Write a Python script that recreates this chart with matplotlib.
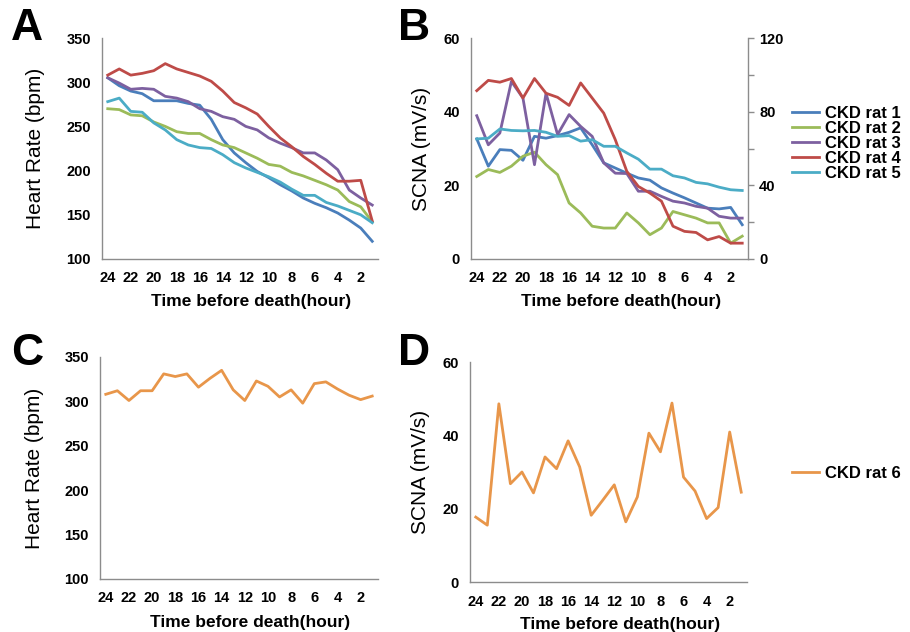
import matplotlib
matplotlib.use('Agg')
import matplotlib.pyplot as plt

plt.rcParams['font.family'] = ['Liberation Sans', 'DejaVu Sans']

# horas antes da morte (24 -> 1)
horas = list(range(24, 0, -1))
rotulos_x = list(range(24, 0, -2))

# A - frequencia cardiaca (bpm), ratos CKD 1-5
fc_rato1 = [305, 296, 290, 287, 279, 279, 279, 276, 274, 258, 235, 220, 209, 199, 192, 184, 177, 169, 163, 158, 152, 144, 135, 120]
fc_rato2 = [270, 269, 263, 262, 255, 250, 244, 242, 242, 235, 229, 226, 220, 214, 207, 205, 198, 194, 189, 184, 178, 165, 159, 142]
fc_rato3 = [305, 299, 292, 293, 292, 284, 282, 278, 270, 267, 261, 258, 250, 246, 237, 231, 226, 220, 220, 212, 201, 178, 169, 161]
fc_rato4 = [308, 315, 308, 310, 313, 321, 315, 311, 307, 301, 290, 277, 271, 264, 250, 237, 227, 216, 207, 197, 188, 188, 189, 143]
fc_rato5 = [278, 282, 267, 266, 254, 246, 235, 229, 226, 225, 218, 209, 203, 198, 193, 187, 179, 172, 172, 164, 160, 155, 150, 141]

# B - SCNA (mV/s), ratos CKD 1-5
scna_rato1 = [32.6, 25.2, 29.7, 29.5, 26.8, 33.3, 32.8, 33.5, 34.4, 35.6, 31.0, 26.1, 24.7, 23.3, 22.0, 21.4, 19.3, 17.9, 16.6, 15.2, 13.8, 13.6, 14.0, 9.3]
scna_rato2 = [22.4, 24.3, 23.5, 25.2, 27.9, 29.0, 25.6, 22.9, 15.2, 12.5, 8.9, 8.4, 8.4, 12.5, 9.8, 6.6, 8.4, 12.9, 12.0, 11.1, 9.8, 9.8, 4.3, 6.2]
scna_rato3 = [38.9, 31.0, 34.2, 48.2, 43.7, 25.6, 45.0, 33.8, 39.2, 36.0, 33.3, 26.1, 23.3, 23.2, 18.4, 18.4, 17.0, 15.7, 15.2, 14.3, 13.8, 11.6, 11.1, 11.1]
scna_rato4 = [45.7, 48.5, 48.0, 49.0, 43.7, 49.0, 45.0, 43.9, 41.7, 47.8, 43.7, 39.6, 32.4, 23.8, 19.7, 17.9, 15.7, 8.9, 7.5, 7.2, 5.2, 6.1, 4.3, 4.3]
scna_rato5 = [32.6, 32.8, 35.3, 34.9, 34.8, 34.9, 34.4, 33.3, 33.5, 32.0, 32.4, 30.6, 30.6, 28.8, 27.1, 24.4, 24.4, 22.6, 22.0, 20.8, 20.4, 19.5, 18.8, 18.6]

# C / D - rato CKD 6
fc_rato6 = [308, 312, 301, 312, 312, 331, 328, 331, 316, 326, 335, 313, 301, 323, 317, 305, 313, 298, 320, 322, 314, 307, 302, 306]
scna_rato6 = [17.7, 15.5, 48.6, 26.8, 30.0, 24.3, 34.1, 30.9, 38.5, 31.4, 18.2, 22.3, 26.5, 16.4, 23.2, 40.6, 35.5, 48.8, 28.6, 24.8, 17.3, 20.3, 40.9, 24.5]

nomes = ['CKD rat 1', 'CKD rat 2', 'CKD rat 3', 'CKD rat 4', 'CKD rat 5']
cores = ['#4A7EBB', '#9BBB59', '#7D60A0', '#BE4B48', '#4BACC6']
cor_rato6 = '#E8964A'
cor_eixo = '#8C8C8C'

W, H = 910, 632
fig = plt.figure(figsize=(W / 100, H / 100), dpi=100)


def caixa(x0, x1, ytop, ybot):
    return [x0 / W, 1 - ybot / H, (x1 - x0) / W, (ybot - ytop) / H]


def formata(ax, ylim, yticks, ylabel, ylab_x):
    ax.set_xlim(24.5, 0.5)
    ax.set_ylim(*ylim)
    ax.set_yticks(yticks)
    ax.set_xticks(rotulos_x)
    ax.set_xticklabels([str(v) for v in rotulos_x])
    for lado in ['top', 'right']:
        ax.spines[lado].set_visible(False)
    for lado in ['left', 'bottom']:
        ax.spines[lado].set_color(cor_eixo)
        ax.spines[lado].set_linewidth(1.0)
    ax.tick_params(axis='x', length=0, pad=9, labelsize=10.5)
    ax.tick_params(axis='y', length=0, pad=8, labelsize=10.5)
    for t in ax.get_xticklabels() + ax.get_yticklabels():
        t.set_fontweight('bold')
    ax.set_ylabel(ylabel, fontsize=15)
    ax.yaxis.set_label_coords(ylab_x, 0.5)
    ax.set_xlabel('Time before death(hour)', fontsize=12.5, fontweight='bold')
    ax.xaxis.set_label_coords(0.54, -0.16)


# ---------------- A ----------------
axA = fig.add_axes(caixa(102, 378, 38, 259))
for serie, cor in zip([fc_rato1, fc_rato2, fc_rato3, fc_rato4, fc_rato5], cores):
    axA.plot(horas, serie, color=cor, lw=2.0)
formata(axA, (100, 350), [100, 150, 200, 250, 300, 350], 'Heart Rate (bpm)', -0.205)

# ---------------- B ----------------
axB = fig.add_axes(caixa(471, 748, 38, 259))
linhas = []
for serie, cor, nome in zip([scna_rato1, scna_rato2, scna_rato3, scna_rato4, scna_rato5], cores, nomes):
    l, = axB.plot(horas, serie, color=cor, lw=2.0, label=nome)
    linhas.append(l)
formata(axB, (0, 60), [0, 20, 40, 60], 'SCNA (mV/s)', -0.145)

# eixo secundario (0-120)
axB2 = axB.twinx()
axB2.set_ylim(0, 120)
axB2.set_yticks([0, 20, 40, 60, 80, 100, 120])
axB2.set_yticklabels(['0', '', '40', '', '80', '', '120'])
for lado in ['top', 'left', 'bottom']:
    axB2.spines[lado].set_visible(False)
axB2.spines['right'].set_color(cor_eixo)
axB2.spines['right'].set_linewidth(1.0)
axB2.tick_params(axis='y', length=4, width=1, color=cor_eixo, pad=4, labelsize=10.5)
for t in axB2.get_yticklabels():
    t.set_fontweight('bold')

fig.legend(handles=linhas, loc='upper left', bbox_to_anchor=(792 / W, 1 - 106 / H),
           frameon=False, borderpad=0, borderaxespad=0, labelspacing=0.0,
           handlelength=1.6, handletextpad=0.4, prop={'weight': 'bold', 'size': 12})

# ---------------- C ----------------
axC = fig.add_axes(caixa(100, 378, 357, 579))
axC.plot(horas, fc_rato6, color=cor_rato6, lw=2.0)
formata(axC, (100, 350), [100, 150, 200, 250, 300, 350], 'Heart Rate (bpm)', -0.2)

# ---------------- D ----------------
axD = fig.add_axes(caixa(470, 747, 362, 582))
l6, = axD.plot(horas, scna_rato6, color=cor_rato6, lw=2.0, label='CKD rat 6')
formata(axD, (0, 60), [0, 20, 40, 60], 'SCNA (mV/s)', -0.145)

fig.legend(handles=[l6], loc='upper left', bbox_to_anchor=(792 / W, 1 - 466 / H),
           frameon=False, borderpad=0, borderaxespad=0,
           handlelength=1.6, handletextpad=0.4, prop={'weight': 'bold', 'size': 12})

# letras dos paineis
for letra, x, y in [('A', 11, 8), ('B', 398, 8), ('C', 11, 333), ('D', 398, 333)]:
    fig.text(x / W, 1 - y / H, letra, fontsize=32, fontweight='bold', va='top', ha='left')

fig.savefig('out.png', dpi=100)
